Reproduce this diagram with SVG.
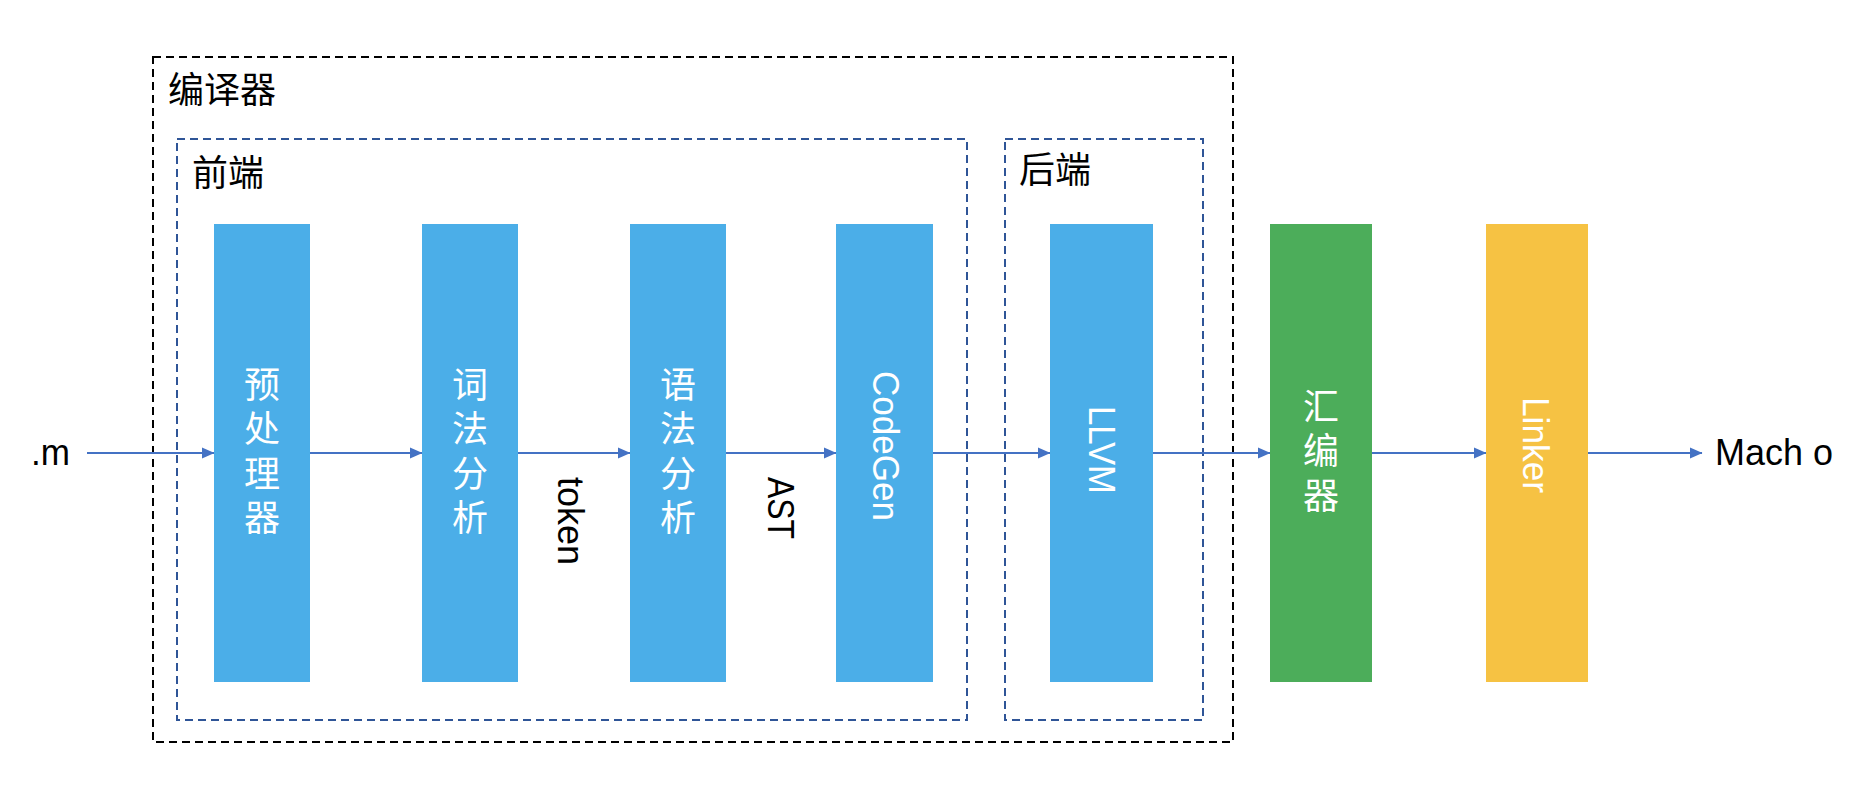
<svg xmlns="http://www.w3.org/2000/svg" width="1876" height="800" viewBox="0 0 1876 800">
  <defs>
    <marker id="arrow" markerUnits="userSpaceOnUse" markerWidth="13" markerHeight="12" refX="12" refY="6" orient="auto">
      <path d="M0,0.5 L12.5,6 L0,11.5 z" fill="#4472C4"/>
    </marker>
    <style>
      .outer { fill: none; stroke: #000; stroke-width: 2; stroke-dasharray: 8 5; }
      .group { fill: none; stroke: #2F5597; stroke-width: 2; stroke-dasharray: 8 5; }
      .blue { fill: #4BAEE8; }
      .green { fill: #4CAD5A; }
      .yellow { fill: #F6C243; }
      .cjk { font-family: "Noto Sans CJK SC", sans-serif; font-size: 36px; }
      .vert { font-family: "Noto Sans CJK SC", sans-serif; font-size: 36px; writing-mode: vertical-rl; letter-spacing: 8.5px; }
      .lat { font-family: "Liberation Sans", "Noto Sans CJK SC", sans-serif; font-size: 36px; }
      .white { fill: #fff; }
      .black { fill: #000; }
      .conn { stroke: #4472C4; stroke-width: 2; fill: none; marker-end: url(#arrow); }
    </style>
  </defs>
  <rect width="1876" height="800" fill="#fff"/>

  <g id="compiler">
    <rect class="outer" x="153" y="57" width="1080" height="685"/>
    <text class="cjk black" x="168" y="103">编译器</text>
  </g>
  <g id="frontend">
    <rect class="group" x="177" y="139" width="790" height="581"/>
    <text class="cjk black" x="192" y="186">前端</text>
  </g>
  <g id="backend">
    <rect class="group" x="1005" y="139" width="198" height="581"/>
    <text class="cjk black" x="1019" y="183">后端</text>
  </g>

  <g id="connectors">
    <line class="conn" x1="87" y1="453" x2="214" y2="453"/>
    <line class="conn" x1="310" y1="453" x2="422" y2="453"/>
    <line class="conn" x1="518" y1="453" x2="630" y2="453"/>
    <line class="conn" x1="726" y1="453" x2="836" y2="453"/>
    <line class="conn" x1="933" y1="453" x2="1050" y2="453"/>
    <line class="conn" x1="1153" y1="453" x2="1270" y2="453"/>
    <line class="conn" x1="1372" y1="453" x2="1486" y2="453"/>
    <line class="conn" x1="1588" y1="453" x2="1702" y2="453"/>
    <text class="lat black" transform="translate(558,477) rotate(90)" textLength="88" lengthAdjust="spacingAndGlyphs">token</text>
    <text class="lat black" transform="translate(768,477) rotate(90)" textLength="62" lengthAdjust="spacingAndGlyphs">AST</text>
  </g>

  <g id="input">
    <text class="lat black" x="31" y="465" textLength="39" lengthAdjust="spacingAndGlyphs">.m</text>
  </g>

  <g id="preprocessor">
    <rect class="blue" x="214" y="224" width="96" height="458"/>
    <text class="vert white" x="262" y="366">预处理器</text>
  </g>
  <g id="lexer">
    <rect class="blue" x="422" y="224" width="96" height="458"/>
    <text class="vert white" x="470" y="366">词法分析</text>
  </g>
  <g id="parser">
    <rect class="blue" x="630" y="224" width="96" height="458"/>
    <text class="vert white" x="678" y="366">语法分析</text>
  </g>
  <g id="codegen">
    <rect class="blue" x="836" y="224" width="97" height="458"/>
    <text class="lat white" transform="translate(873,371) rotate(90)" textLength="150" lengthAdjust="spacingAndGlyphs">CodeGen</text>
  </g>
  <g id="llvm">
    <rect class="blue" x="1050" y="224" width="103" height="458"/>
    <text class="lat white" transform="translate(1089,406) rotate(90)" textLength="88" lengthAdjust="spacingAndGlyphs">LLVM</text>
  </g>
  <g id="assembler">
    <rect class="green" x="1270" y="224" width="102" height="458"/>
    <text class="vert white" x="1321" y="388">汇编器</text>
  </g>
  <g id="linker">
    <rect class="yellow" x="1486" y="224" width="102" height="458"/>
    <text class="lat white" transform="translate(1523,397) rotate(90)" textLength="96" lengthAdjust="spacingAndGlyphs">Linker</text>
  </g>
  <g id="output">
    <text class="lat black" x="1715" y="465" textLength="118" lengthAdjust="spacingAndGlyphs">Mach o</text>
  </g>
</svg>
